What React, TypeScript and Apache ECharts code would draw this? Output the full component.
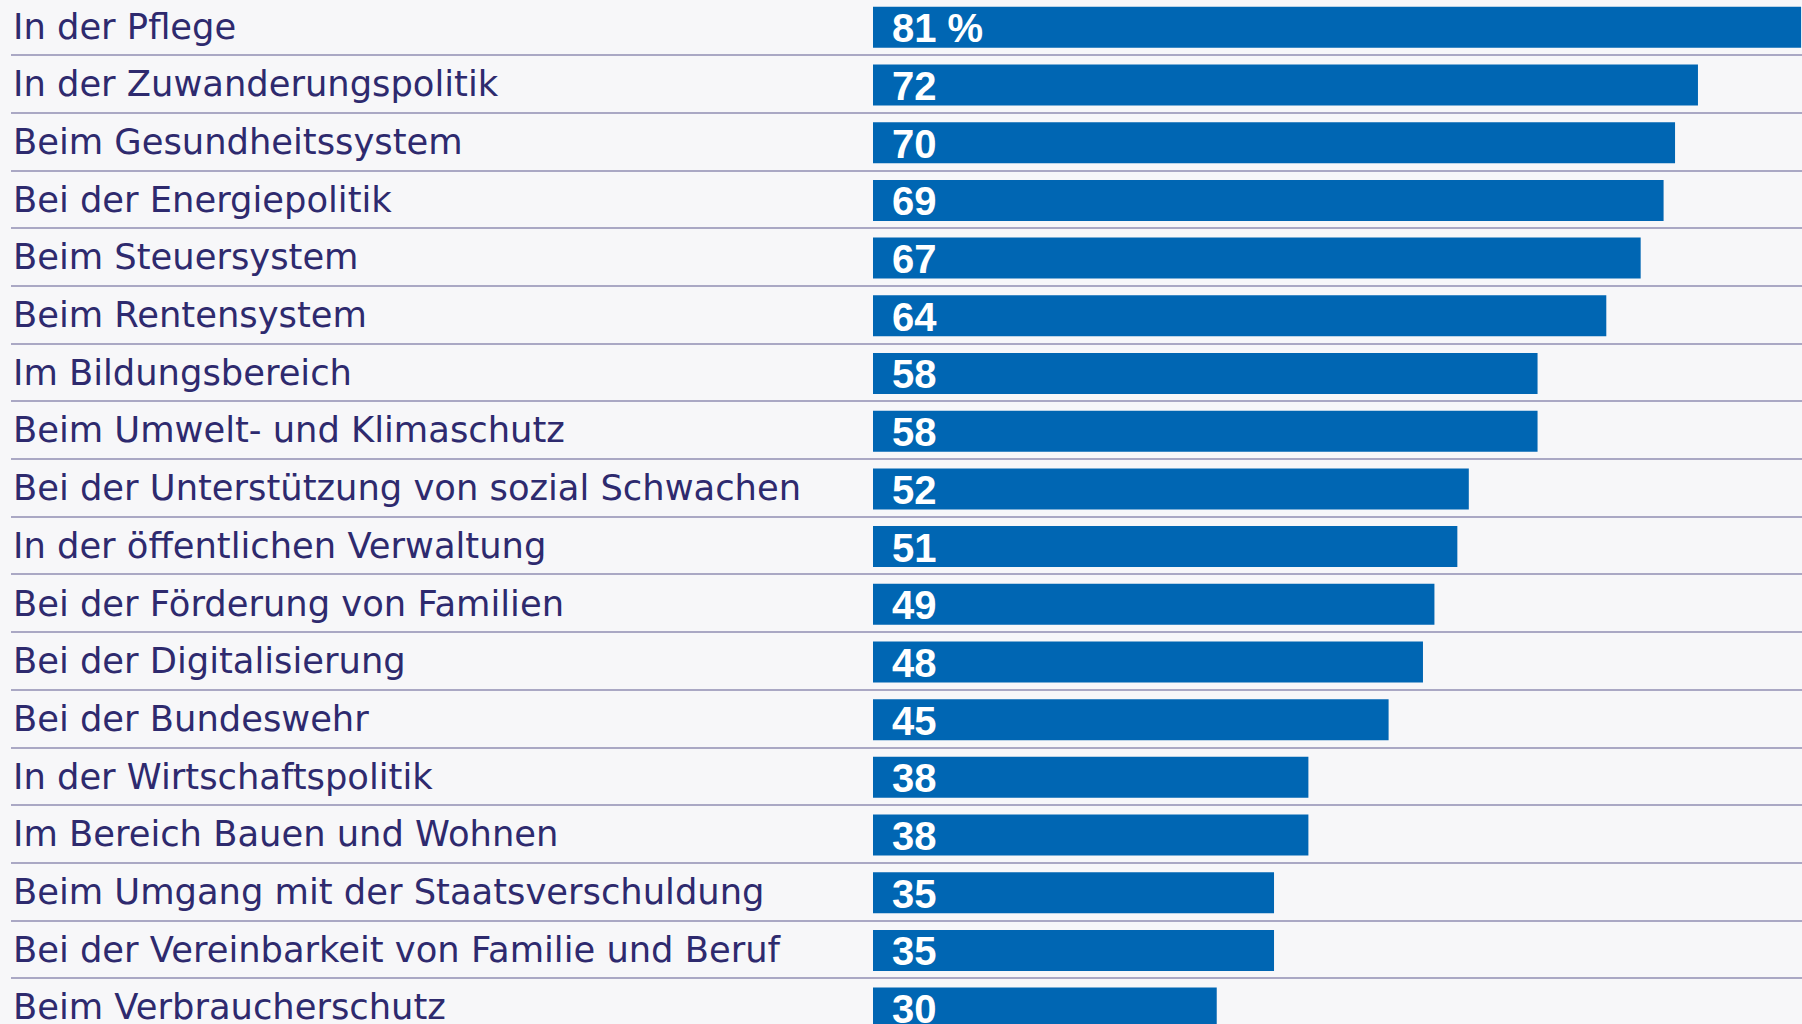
import React, { useEffect, useRef } from "react";
import * as echarts from "echarts";

const categories = [
  "In der Pflege",
  "In der Zuwanderungspolitik",
  "Beim Gesundheitssystem",
  "Bei der Energiepolitik",
  "Beim Steuersystem",
  "Beim Rentensystem",
  "Im Bildungsbereich",
  "Beim Umwelt- und Klimaschutz",
  "Bei der Unterstützung von sozial Schwachen",
  "In der öffentlichen Verwaltung",
  "Bei der Förderung von Familien",
  "Bei der Digitalisierung",
  "Bei der Bundeswehr",
  "In der Wirtschaftspolitik",
  "Im Bereich Bauen und Wohnen",
  "Beim Umgang mit der Staatsverschuldung",
  "Bei der Vereinbarkeit von Familie und Beruf",
  "Beim Verbraucherschutz",
];

const values = [81, 72, 70, 69, 67, 64, 58, 58, 52, 51, 49, 48, 45, 38, 38, 35, 35, 30];

const ROW = 57.69;
const TOP = 55 - ROW;
const HEIGHT = ROW * categories.length;

export default function App() {
  const ref = useRef<HTMLDivElement>(null);
  useEffect(() => {
    if (!ref.current) return;
    const chart = echarts.init(ref.current, undefined, { renderer: "svg" });
    chart.setOption({
      animation: false,
      backgroundColor: "#f7f7f9",
      grid: [
        { left: 11, right: 0, top: TOP, height: HEIGHT, outerBoundsMode: "none", containLabel: false },
        { left: 873, right: 0, top: TOP + 1.2, height: HEIGHT, outerBoundsMode: "none", containLabel: false },
      ],
      xAxis: [
        { type: "value", gridIndex: 0, min: 0, max: 1, show: false },
        { type: "value", gridIndex: 1, min: 0, max: 81.08, show: false },
      ],
      yAxis: [
        {
          type: "category",
          gridIndex: 0,
          inverse: true,
          data: categories,
          axisLine: { show: false },
          axisTick: { show: false },
          splitLine: { show: true, lineStyle: { color: "#aaa8c4", width: 2 } },
          axisLabel: {
            inside: true,
            margin: 2,
            align: "left",
            color: "#2e2a6e",
            fontFamily: "DejaVu Sans",
            fontSize: 35.3,
            verticalAlign: "middle",
            padding: [0, 0, 2, 0],
          },
        },
        {
          type: "category",
          gridIndex: 1,
          inverse: true,
          data: categories,
          show: false,
        },
      ],
      series: [
        {
          type: "bar",
          xAxisIndex: 1,
          yAxisIndex: 1,
          data: values,
          barWidth: 41,
          itemStyle: { color: "#0066b3" },
          label: {
            show: true,
            position: "insideLeft",
            distance: 19,
            offset: [0, 1],
            color: "#ffffff",
            fontFamily: "Liberation Sans",
            fontWeight: "bold",
            fontSize: 40,
            formatter: (p: any) => (p.dataIndex === 0 ? `${p.value} %` : `${p.value}`),
          },
        },
      ],
    });
    return () => chart.dispose();
  }, []);
  return (
    <div
      ref={ref}
      style={{ position: "absolute", left: 0, top: 0, width: 1802, height: 1024 }}
    />
  );
}
